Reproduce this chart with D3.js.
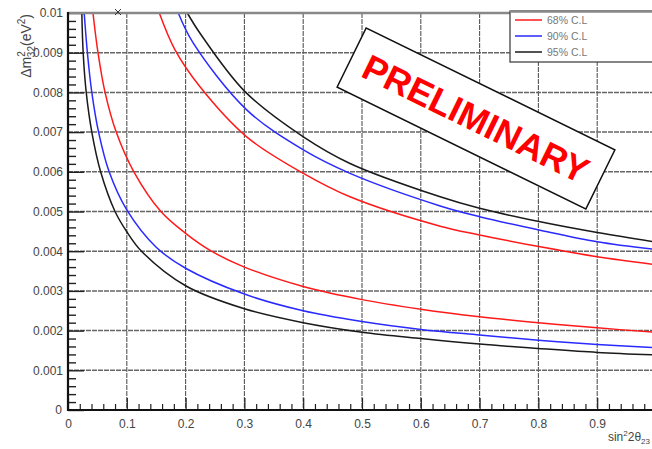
<!DOCTYPE html>
<html>
<head>
<meta charset="utf-8">
<script src="https://cdn.jsdelivr.net/npm/d3@7"></script>
<style>
html,body{margin:0;padding:0;background:#fff;}
svg{display:block;}
text{font-family:"Liberation Sans",Arial,Helvetica,sans-serif;}
</style>
</head>
<body>
<svg id="chart" width="652" height="449"></svg>
<script>
// ---- data ----
const xTickValues = [0,0.1,0.2,0.3,0.4,0.5,0.6,0.7,0.8,0.9];
const xTickLabels = ["0","0.1","0.2","0.3","0.4","0.5","0.6","0.7","0.8","0.9"];
const yTickValues = [0.01,0.009,0.008,0.007,0.006,0.005,0.004,0.003,0.002,0.001,0];
const yTickLabels = ["0.01","0.009","0.008","0.007","0.006","0.005","0.004","0.003","0.002","0.001","0"];

const legendLabels = ["68% C.L","90% C.L","95% C.L"];
const seriesColors = ["#ff1a1a","#2a2aff","#1a1a1a"];

// lower branches: sin^2(2theta), dm^2
const red68LowerX = [0.0425,0.051,0.063,0.082,0.112,0.158,0.2,0.244,0.3,0.4,0.5,0.6,0.7,0.8,0.9,0.995];
const red68LowerY = [0.01,0.009,0.008,0.007,0.006,0.005,0.00445,0.004,0.0036,0.00311,0.00278,0.00254,0.00235,0.0022,0.00207,0.00196];
const blue90LowerX = [0.0275,0.033,0.0405,0.052,0.07,0.1,0.15,0.2,0.3,0.4,0.5,0.6,0.7,0.8,0.9,0.995];
const blue90LowerY = [0.01,0.009,0.008,0.007,0.006,0.00504,0.0041,0.00357,0.00292,0.0025,0.00223,0.00203,0.00189,0.00176,0.00165,0.00157];
const black95LowerX = [0.0235,0.0258,0.031,0.0405,0.0555,0.08,0.1,0.125,0.2,0.3,0.4,0.5,0.6,0.7,0.8,0.9,0.995];
const black95LowerY = [0.01,0.009,0.008,0.007,0.006,0.005,0.00449,0.004,0.00313,0.00255,0.0022,0.00196,0.0018,0.00166,0.00155,0.00145,0.00139];

// upper branches
const red68UpperX = [0.1553,0.182,0.2245,0.3039,0.4003,0.4796,0.633,0.7,0.803,0.9,0.995];
const red68UpperY = [0.01,0.00907,0.00814,0.00688,0.00596,0.00537,0.00463,0.00441,0.00411,0.00386,0.00367];
const blue90UpperX = [0.1876,0.2131,0.3039,0.4003,0.4796,0.633,0.7,0.803,0.9,0.995];
const blue90UpperY = [0.01,0.00924,0.00756,0.00655,0.00596,0.00514,0.00487,0.00453,0.00424,0.00405];
const black95UpperX = [0.2029,0.2245,0.301,0.4003,0.4796,0.633,0.7,0.803,0.9,0.995];
const black95UpperY = [0.01,0.00949,0.00802,0.00688,0.00621,0.00537,0.00508,0.00474,0.00447,0.00424];

// stray marker at the top of the frame
const markerX = [0.085];
const markerY = [0.01];

// ---- drawing ----
(function(){
const svg = d3.select("#chart");
const W = 652, H = 449;
const pL = 68, pR = 656, pT = 13, pB = 410;

const x = d3.scaleLinear().domain([0,1]).range([pL,pR]);
const y = d3.scaleLinear().domain([0,0.01]).range([pB,pT]);

svg.append("defs").append("clipPath").attr("id","plotclip")
  .append("rect").attr("x",pL).attr("y",pT-1).attr("width",W-pL).attr("height",pB-pT+1);

// grid
const grid = svg.append("g");
grid.selectAll("line.vg").data(xTickValues.filter(v=>v>0)).join("line")
  .attr("x1",d=>x(d)).attr("x2",d=>x(d)).attr("y1",pT).attr("y2",pB)
  .attr("stroke","#555").attr("stroke-width",1.1).attr("stroke-dasharray","5,1");
grid.selectAll("line.hg").data(yTickValues.filter(v=>v>0 && v<0.01)).join("line")
  .attr("x1",pL).attr("x2",W).attr("y1",d=>y(d)).attr("y2",d=>y(d))
  .attr("stroke","#666").attr("stroke-width",1.5).attr("stroke-dasharray","5,1");

// curves
const line = d3.line().x(d=>x(d[0])).y(d=>y(d[1])).curve(d3.curveCatmullRom.alpha(0.5));
const zip = (a,b)=>a.map((v,i)=>[v,b[i]]);
const curves = [
  {pts:zip(red68LowerX,red68LowerY), c:seriesColors[0]},
  {pts:zip(red68UpperX,red68UpperY), c:seriesColors[0]},
  {pts:zip(blue90LowerX,blue90LowerY), c:seriesColors[1]},
  {pts:zip(blue90UpperX,blue90UpperY), c:seriesColors[1]},
  {pts:zip(black95LowerX,black95LowerY), c:seriesColors[2]},
  {pts:zip(black95UpperX,black95UpperY), c:seriesColors[2]}
];
const cg = svg.append("g").attr("clip-path","url(#plotclip)");
cg.selectAll("path").data(curves).join("path")
  .attr("d",d=>line(d.pts)).attr("fill","none")
  .attr("stroke",d=>d.c).attr("stroke-width",1.5);

// axes
const xMinor = d3.range(0,1.0001,0.02).filter(v=>Math.abs(v*10-Math.round(v*10))>1e-6);
const yMinor = d3.range(0,0.01001,0.0002).filter(v=>Math.abs(v*1000-Math.round(v*1000))>1e-6);

const xAxis = d3.axisBottom(x).tickValues(xTickValues).tickSizeInner(-12).tickSizeOuter(0)
  .tickPadding(9).tickFormat((d,i)=>xTickLabels[i]);
const gx = svg.append("g").attr("transform",`translate(0,${pB})`).call(xAxis);
gx.select(".domain").remove();
gx.selectAll(".tick line").attr("stroke","#222").attr("stroke-width",1.2);
gx.selectAll(".tick text").attr("font-size",12).attr("fill","#444")
  .attr("font-family","Liberation Sans, Arial, sans-serif");
const gxm = svg.append("g").attr("transform",`translate(0,${pB})`)
  .call(d3.axisBottom(x).tickValues(xMinor).tickSizeInner(-6).tickSizeOuter(0).tickFormat(""));
gxm.select(".domain").remove();
gxm.selectAll(".tick line").attr("stroke","#222").attr("stroke-width",1.2);

const yAxis = d3.axisLeft(y).tickValues(yTickValues).tickSizeInner(-16).tickSizeOuter(0)
  .tickPadding(5).tickFormat((d,i)=>yTickLabels[i]);
const gy = svg.append("g").attr("transform",`translate(${pL},0)`).call(yAxis);
gy.select(".domain").remove();
gy.selectAll(".tick line").attr("stroke","#222").attr("stroke-width",1.4);
gy.selectAll(".tick text").attr("font-size",12).attr("fill","#444")
  .attr("font-family","Liberation Sans, Arial, sans-serif");
gy.selectAll(".tick").filter(d=>d===0).select("text").attr("x",-6);
const gym = svg.append("g").attr("transform",`translate(${pL},0)`)
  .call(d3.axisLeft(y).tickValues(yMinor).tickSizeInner(-8).tickSizeOuter(0).tickFormat(""));
gym.select(".domain").remove();
gym.selectAll(".tick line").attr("stroke","#222").attr("stroke-width",1.4);

// frame
svg.append("line").attr("x1",pL).attr("x2",W).attr("y1",pT).attr("y2",pT)
  .attr("stroke","#888").attr("stroke-width",2.5);
svg.append("line").attr("x1",pL).attr("x2",pL).attr("y1",pT-1).attr("y2",pB+1)
  .attr("stroke","#111").attr("stroke-width",2.2);
svg.append("line").attr("x1",pL-1).attr("x2",W).attr("y1",pB).attr("y2",pB)
  .attr("stroke","#111").attr("stroke-width",2.2);

// marker
svg.selectAll("path.mk").data(zip(markerX,markerY)).join("path")
  .attr("d",d=>{const cx=x(d[0]), cy=y(d[1])-1; return `M${cx-3},${cy-3}L${cx+3},${cy+3}M${cx-3},${cy+3}L${cx+3},${cy-3}`;})
  .attr("stroke","#333").attr("stroke-width",1);

// axis titles
const yt = svg.append("text").attr("transform","translate(31,14) rotate(-90)")
  .attr("text-anchor","end").attr("font-size",14).attr("fill","#444");
yt.append("tspan").text("Δm");
yt.append("tspan").attr("font-size",10).attr("dy",-6).text("2");
yt.append("tspan").attr("font-size",10).attr("dx",-6).attr("dy",10).text("32");
yt.append("tspan").attr("dy",-4).text("(eV");
yt.append("tspan").attr("font-size",10).attr("dy",-6).text("2");
yt.append("tspan").attr("dy",6).text(")");

const xt = svg.append("text").attr("x",650).attr("y",441)
  .attr("text-anchor","end").attr("font-size",12).attr("fill","#444");
xt.append("tspan").text("sin");
xt.append("tspan").attr("font-size",8).attr("dy",-5).text("2");
xt.append("tspan").attr("dy",5).text("2θ");
xt.append("tspan").attr("font-size",8).attr("dy",3).text("23");

// legend
const lg = svg.append("g");
lg.append("rect").attr("x",510).attr("y",11).attr("width",160).attr("height",51)
  .attr("fill","#fff").attr("stroke","#444").attr("stroke-width",1.3);
lg.append("line").attr("x1",510).attr("x2",W).attr("y1",11.5).attr("y2",11.5)
  .attr("stroke","#888").attr("stroke-width",2.5);
const lgy = d3.scaleLinear().domain([0,2]).range([20,52]);
lg.selectAll("line.e").data(legendLabels).join("line")
  .attr("x1",515).attr("x2",542).attr("y1",(d,i)=>lgy(i)).attr("y2",(d,i)=>lgy(i))
  .attr("stroke",(d,i)=>seriesColors[i]).attr("stroke-width",1.5);
lg.selectAll("text").data(legendLabels).join("text")
  .attr("x",547).attr("y",(d,i)=>lgy(i)+3.5).attr("font-size",10.5).attr("fill","#777")
  .text(d=>d);

// PRELIMINARY stamp
const st = svg.append("g").attr("transform","translate(476,118.5) rotate(26.1)");
st.append("rect").attr("x",-138.5).attr("y",-33).attr("width",277).attr("height",66)
  .attr("fill","#fff").attr("stroke","#111").attr("stroke-width",1.5);
st.append("text").attr("x",0).attr("y",0).attr("dy","0.36em").attr("text-anchor","middle")
  .attr("font-size",36).attr("font-weight","bold").attr("fill","#ff0000").text("PRELIMINARY");
})();
</script>
</body>
</html>
